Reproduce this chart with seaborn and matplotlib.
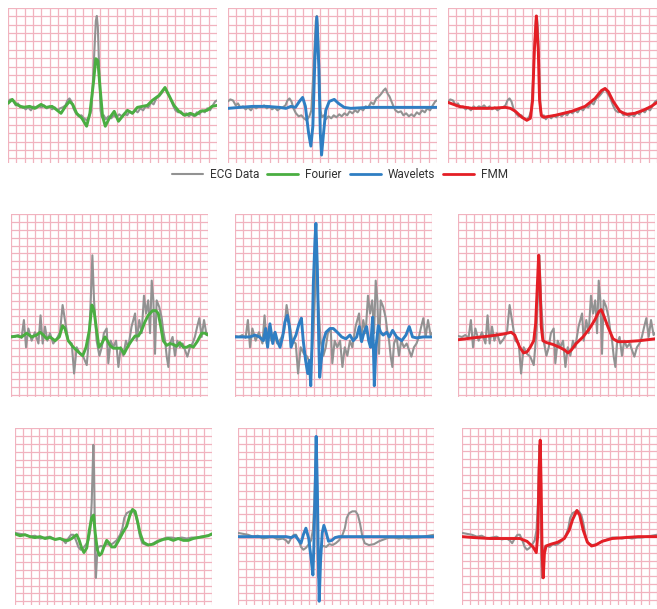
import matplotlib
matplotlib.use("Agg")
import matplotlib.pyplot as plt
from matplotlib.lines import Line2D
from matplotlib.ticker import FixedLocator
import seaborn as sns
import pandas as pd
import numpy as np

sns.set_theme(style="white")
plt.rcParams['font.family'] = ['Roboto', 'DejaVu Sans']

# ---------------- data: (time ms, amplitude mV) ----------------
ECG_ROW1 = [(0,0.06),(9,0.08),(20,0.07),(31,0.02),(40,0.04),(49,0.00),(60,0.01),(71,-0.02),(81,0.00),(92,-0.03),
            (103,0.01),(113,-0.01),(124,0.01),(135,0.00),(145,0.02),(156,-0.01),(167,0.01),(177,-0.02),(188,0.00),(199,-0.03),
            (209,-0.01),(220,0.00),(231,0.02),(239,0.07),(247,0.09),(255,0.06),(263,-0.01),(273,-0.06),(284,-0.09),(295,-0.08),
            (305,-0.11),(316,-0.13),(327,-0.09),(335,-0.03),(341,0.24),(348,0.61),(353,0.87),(357,0.92),(361,0.81),(367,0.34),
            (372,-0.03),(377,-0.10),(385,-0.08),(393,-0.12),(404,-0.09),(415,-0.11),(425,-0.08),(436,-0.10),(447,-0.07),(457,-0.09),
            (468,-0.06),(479,-0.08),(489,-0.04),(500,-0.06),(511,-0.03),(521,-0.05),(532,-0.01),(543,-0.03),(553,0.01),(564,0.00),
            (575,0.05),(585,0.03),(596,0.09),(607,0.11),(617,0.14),(625,0.17),(633,0.19),(641,0.14),(649,0.11),(657,0.06),
            (665,0.01),(673,-0.03),(684,-0.05),(695,-0.04),(705,-0.08),(716,-0.06),(727,-0.09),(737,-0.07),(748,-0.09),(759,-0.05),
            (769,-0.07),(780,-0.03),(791,-0.05),(801,-0.01),(812,-0.03),(823,0.02),(833,0.06),(840,0.07)]

FOURIER_ROW1 = [(0,0.04),(17,0.08),(33,0.03),(60,0.00),(87,0.01),(107,-0.01),(133,0.03),(153,0.00),(177,0.01),(193,-0.02),
                (213,-0.06),(231,0.01),(247,0.06),(260,0.03),(276,-0.06),(297,-0.11),(316,-0.19),(329,-0.06),(343,0.24),(353,0.49),
                (361,0.47),(371,0.17),(380,-0.09),(391,-0.19),(407,-0.11),(427,-0.04),(444,-0.14),(460,-0.09),(480,-0.03),(500,-0.06),
                (520,0.00),(540,0.01),(560,0.02),(580,0.07),(607,0.12),(631,0.20),(647,0.12),(667,0.02),(687,-0.04),(711,-0.08),
                (733,-0.06),(753,-0.08),(773,-0.04),(800,-0.03),(820,0.01),(840,0.02)]

WAVELET_ROW1 = [(0,-0.01),(47,0.00),(100,0.01),(153,0.01),(207,0.00),(233,-0.01),(253,0.01),(271,0.00),(287,0.06),(300,0.10),
                (311,0.01),(324,-0.26),(333,-0.39),(341,-0.19),(349,0.47),(357,0.91),(365,0.41),(371,-0.26),(376,-0.48),(384,-0.26),
                (393,-0.03),(407,0.06),(427,0.08),(444,0.04),(467,0.00),(493,-0.01),(567,0.00),(700,0.00),(840,0.00)]

FMM_ROW1 = [(0,0.05),(44,0.01),(97,-0.01),(164,-0.01),(231,0.00),(251,-0.01),(271,-0.04),(297,-0.10),(317,-0.13),(331,-0.11),
            (340,0.07),(347,0.57),(355,0.92),(363,0.57),(368,0.07),(375,-0.08),(384,-0.10),(431,-0.08),(497,-0.04),(551,0.01),
            (591,0.09),(617,0.17),(631,0.19),(644,0.16),(664,0.06),(691,-0.04),(717,-0.07),(751,-0.06),(784,-0.03),(817,0.01),
            (840,0.05)]

ECG_ROW2 = [(0,0.01),(17,0.00),(31,0.02),(45,-0.01),(55,0.18),(64,-0.11),(74,0.09),(88,-0.04),(102,0.05),(117,-0.07),
            (126,0.23),(135,-0.07),(145,0.11),(155,-0.04),(166,0.04),(180,-0.07),(195,-0.02),(209,0.05),(220,0.34),(230,0.18),
            (244,-0.04),(259,-0.07),(269,-0.39),(280,-0.11),(294,-0.18),(308,-0.21),(323,-0.30),(334,0.04),(340,0.39),(347,0.87),
            (354,0.39),(365,-0.04),(377,-0.20),(387,-0.11),(396,0.04),(408,0.09),(415,-0.28),(425,-0.04),(436,-0.11),(448,-0.04),
            (458,-0.32),(468,-0.11),(479,-0.20),(490,-0.04),(500,-0.11),(514,0.11),(529,0.25),(536,-0.04),(547,0.18),(557,0.04),
            (567,0.44),(576,0.25),(585,0.39),(593,0.04),(600,0.60),(607,0.39),(614,-0.18),(621,0.39),(632,0.32),(642,0.21),
            (649,0.07),(657,-0.04),(664,-0.21),(671,-0.32),(678,-0.07),(689,0.00),(699,-0.20),(709,-0.04),(720,-0.11),(732,-0.07),
            (742,-0.14),(752,-0.21),(763,-0.11),(774,-0.07),(784,0.00),(794,0.11),(803,0.20),(813,0.00),(823,0.18),(834,0.02),
            (840,0.04)]

FOURIER_ROW2 = [(0,0.00),(24,0.01),(45,0.00),(67,0.04),(88,0.00),(109,0.02),(124,0.05),(138,0.02),(152,-0.02),(166,0.00),
                (188,-0.04),(206,0.00),(220,0.12),(230,0.09),(244,-0.04),(266,-0.11),(287,-0.16),(306,-0.20),(320,-0.11),(334,0.07),
                (345,0.34),(354,0.28),(365,0.07),(375,-0.11),(387,-0.07),(401,0.00),(411,-0.04),(422,-0.09),(436,-0.12),(450,-0.12),
                (468,-0.12),(482,-0.18),(496,-0.11),(514,-0.04),(529,0.01),(543,0.01),(557,0.07),(571,0.16),(585,0.23),(604,0.28),
                (618,0.28),(628,0.25),(638,0.12),(649,-0.04),(664,-0.09),(678,-0.07),(692,-0.08),(706,-0.10),(720,-0.06),(735,-0.11),
                (749,-0.11),(763,-0.09),(777,-0.11),(794,-0.05),(813,0.04),(827,0.04),(840,0.02)]

WAVELET_ROW2 = [(0,0.00),(36,0.00),(64,0.00),(85,0.02),(104,0.00),(121,-0.04),(131,0.09),(139,-0.11),(149,0.14),(161,-0.07),
                (171,0.05),(180,-0.04),(192,-0.11),(203,0.00),(213,0.16),(223,0.23),(232,0.11),(239,-0.11),(249,-0.04),(260,0.02),
                (273,0.14),(283,0.20),(291,-0.04),(301,-0.25),(310,-0.39),(317,-0.25),(323,-0.52),(328,-0.11),(334,0.57),(341,1.03),
                (345,1.21),(351,0.75),(357,-0.04),(361,-0.43),(368,-0.25),(377,-0.04),(388,0.05),(405,0.09),(419,0.09),(436,0.05),
                (455,0.00),(473,-0.02),(490,0.02),(504,-0.04),(519,0.00),(530,0.11),(540,-0.05),(550,0.05),(561,0.11),(570,-0.04),
                (578,-0.11),(587,0.21),(594,-0.52),(601,-0.11),(611,0.12),(621,0.05),(632,0.02),(647,0.05),(658,0.00),(672,0.07),
                (689,0.00),(711,-0.04),(729,0.02),(743,0.11),(757,0.00),(774,-0.01),(803,0.00),(840,0.00)]

FMM_ROW2 = [(0,-0.03),(64,-0.01),(135,0.01),(192,0.03),(227,0.05),(242,0.02),(263,-0.11),(280,-0.17),(294,-0.16),(308,-0.11),
            (323,-0.04),(331,0.14),(338,0.53),(344,0.87),(350,0.53),(355,0.11),(362,-0.04),(377,-0.06),(405,-0.08),(433,-0.11),
            (455,-0.14),(469,-0.17),(483,-0.14),(504,-0.07),(533,0.00),(561,0.09),(583,0.18),(601,0.27),(611,0.29),(621,0.23),
            (639,0.11),(661,-0.02),(682,-0.05),(718,-0.05),(774,-0.04),(840,-0.02)]

ECG_ROW3 = [(0,0.04),(21,0.03),(43,0.02),(64,0.00),(85,0.01),(107,-0.02),(128,-0.01),(149,0.00),(171,-0.03),(192,-0.02),
            (206,-0.04),(216,-0.07),(227,-0.02),(239,0.02),(249,0.02),(260,-0.04),(270,-0.11),(280,-0.14),(291,-0.12),(301,-0.09),
            (313,-0.04),(321,0.07),(327,0.36),(331,0.71),(334,0.98),(337,0.71),(340,0.18),(342,-0.25),(345,-0.44),(350,-0.21),
            (355,-0.11),(367,-0.10),(378,-0.11),(391,-0.08),(405,-0.09),(419,-0.07),(433,-0.04),(448,0.02),(458,0.09),(466,0.20),
            (476,0.25),(490,0.27),(504,0.27),(514,0.23),(523,0.14),(533,0.00),(543,-0.07),(561,-0.09),(583,-0.08),(604,-0.05),
            (625,-0.03),(647,-0.01),(668,-0.01),(689,-0.02),(711,-0.01),(732,-0.02),(753,-0.01),(774,-0.01),(796,0.00),(817,0.01),
            (840,0.02)]

FOURIER_ROW3 = [(0,0.03),(21,0.01),(43,0.02),(64,0.00),(85,-0.01),(107,0.00),(128,-0.02),(149,-0.01),(171,-0.03),(192,-0.02),
                (213,-0.04),(227,-0.04),(242,-0.02),(252,0.00),(263,0.02),(274,-0.04),(284,-0.12),(294,-0.17),(306,-0.12),(317,0.07),
                (327,0.20),(335,0.23),(342,0.04),(351,-0.14),(360,-0.20),(369,-0.18),(379,-0.11),(391,-0.04),(402,-0.07),(412,-0.11),
                (426,-0.11),(440,-0.05),(459,0.04),(476,0.11),(490,0.23),(501,0.29),(512,0.27),(521,0.18),(533,0.04),(547,-0.06),
                (568,-0.09),(590,-0.08),(611,-0.05),(632,-0.03),(654,-0.02),(675,-0.04),(696,-0.02),(718,-0.04),(739,-0.04),(760,-0.02),
                (781,-0.01),(803,0.00),(824,0.01),(840,0.03)]

WAVELET_ROW3 = [(0,0.00),(135,0.00),(206,0.00),(227,-0.01),(246,0.01),(260,-0.04),(270,-0.07),(280,0.02),(291,0.09),(303,-0.02),
                (314,-0.25),(321,-0.41),(325,-0.11),(331,0.53),(335,1.07),(340,0.53),(344,-0.18),(348,-0.69),(354,-0.25),(361,0.04),
                (368,0.12),(377,0.05),(388,-0.05),(402,-0.04),(416,-0.01),(433,0.00),(561,0.00),(703,0.00),(840,0.00)]

FMM_ROW3 = [(0,0.00),(50,-0.01),(121,-0.02),(192,-0.02),(249,-0.02),(280,-0.05),(306,-0.11),(320,-0.17),(327,0.04),(332,0.71),
            (337,1.03),(341,0.53),(345,-0.18),(350,-0.44),(355,-0.18),(362,-0.10),(384,-0.08),(412,-0.06),(441,-0.02),(462,0.07),
            (476,0.18),(495,0.28),(507,0.23),(522,0.07),(540,-0.06),(558,-0.10),(575,-0.09),(604,-0.05),(647,-0.02),(703,-0.01),
            (760,0.00),(840,0.00)]

METHODS = ["Fourier", "Wavelets", "FMM"]
LEGEND_LABELS = ["ECG Data", "Fourier", "Wavelets", "FMM"]
ROWS = [
    (ECG_ROW1, [FOURIER_ROW1, WAVELET_ROW1, FMM_ROW1]),
    (ECG_ROW2, [FOURIER_ROW2, WAVELET_ROW2, FMM_ROW2]),
    (ECG_ROW3, [FOURIER_ROW3, WAVELET_ROW3, FMM_ROW3]),
]

# ---------------- style / layout ----------------
COLORS = {"ECG Data": "#929292", "Fourier": "#4aae41", "Wavelets": "#2f7ec3", "FMM": "#e41e25"}
GRID_COLOR = "#f1b3bf"
ROW_YLIM = [(-0.56, 1.00), (-0.64, 1.31), (-0.73, 1.16)]
N_COLS_GRID = 25            # small squares across each panel
# panel boxes in pixels: (left, top, width, height)
BOXES = [
    [(8, 8, 209, 155), (228, 8, 209, 155), (448, 8, 209, 155)],
    [(11, 214, 197, 183), (235, 214, 197, 183), (458, 214, 197, 183)],
    [(15, 428, 197, 177), (238, 428, 196, 177), (462, 428, 195, 177)],
]

W, H = 657, 609
fig = plt.figure(figsize=(W / 100, H / 100), dpi=100)
fig.patch.set_facecolor("white")

XMAX = 840
for r, (ecg, fits) in enumerate(ROWS):
    ecg_df = pd.DataFrame(ecg, columns=["t", "mV"])
    y0, y1 = ROW_YLIM[r]
    for c, (method, fit) in enumerate(zip(METHODS, fits)):
        left, top, w, h = BOXES[r][c]
        ax = fig.add_axes([left / W, 1 - (top + h) / H, w / W, h / H])
        fit_df = pd.DataFrame(fit, columns=["t", "mV"])
        sns.lineplot(data=ecg_df, x="t", y="mV", ax=ax, color=COLORS["ECG Data"],
                     lw=1.5, sort=False, estimator=None, zorder=3)
        sns.lineplot(data=fit_df, x="t", y="mV", ax=ax, color=COLORS[method],
                     lw=2.1, sort=False, estimator=None, zorder=4)
        ax.set_xlim(0, XMAX)
        ax.set_ylim(y0, y1)
        # square ECG-paper grid
        xstep = XMAX / N_COLS_GRID
        px_per_sq = w / N_COLS_GRID
        ystep = (y1 - y0) * px_per_sq / h
        ax.xaxis.set_major_locator(FixedLocator(np.arange(0, XMAX + 1e-6, xstep)))
        ax.yaxis.set_major_locator(FixedLocator(np.arange(y1, y0 - 1e-6, -ystep)))
        ax.grid(True, color=GRID_COLOR, lw=0.9, zorder=0)
        ax.set_axisbelow(True)
        ax.tick_params(length=0, labelbottom=False, labelleft=False)
        ax.set_xlabel("")
        ax.set_ylabel("")
        for s in ax.spines.values():
            s.set_visible(False)
        ax.set_facecolor("white")

handles = [Line2D([], [], color=COLORS[k], lw=1.5 if k == "ECG Data" else 2.0) for k in LEGEND_LABELS]
fig.legend(handles, LEGEND_LABELS, loc="center", bbox_to_anchor=(340 / W, 1 - 175 / H),
           ncol=4, frameon=False, fontsize=8.5, handlelength=2.6, handletextpad=0.6,
           columnspacing=0.7, labelcolor="#333333")

fig.savefig("out.png", dpi=100, facecolor="white")
